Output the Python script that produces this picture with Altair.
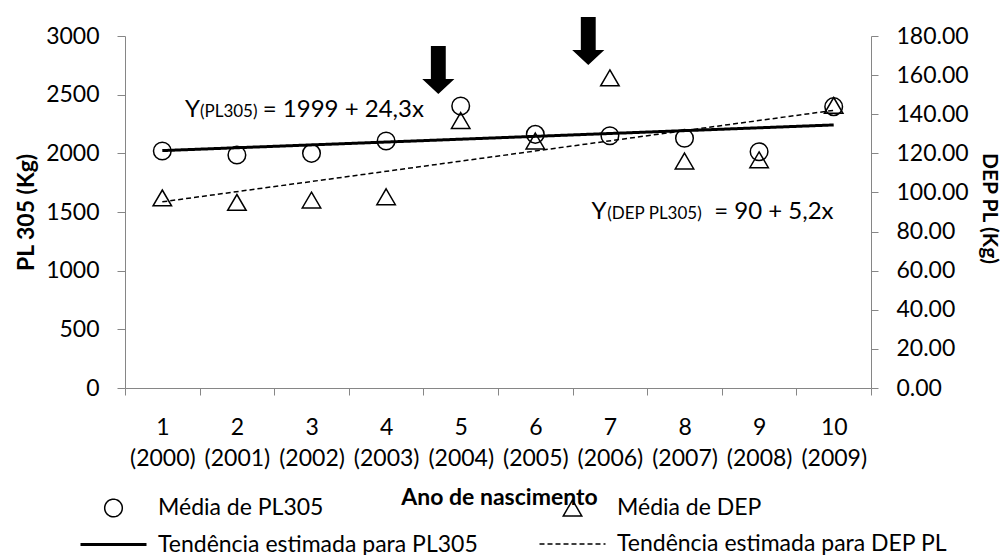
import json
import altair as alt
import pandas as pd

# ---------------- data ----------------
ano_idx = [1, 2, 3, 4, 5, 6, 7, 8, 9, 10]
ano_nasc = [2000, 2001, 2002, 2003, 2004, 2005, 2006, 2007, 2008, 2009]
media_pl305 = [2020, 1986, 2000, 2105, 2403, 2162, 2150, 2128, 2014, 2398]
media_dep = [97.2, 94.9, 96.1, 97.8, 136.8, 126.3, 158.6, 116.1, 116.7, 144.5]

trend_x = [1, 10]
trend_pl305 = [2023.3, 2242.0]
trend_dep = [95.2, 142.0]

series = [
    "Média de PL305",
    "Média de DEP",
    "Tendência estimada para PL305",
    "Tendência estimada para DEP PL",
]

arrow_x = [4.70, 6.71]
arrow_y = [2710, 2957]

eq1_x = [1.303, 1.504, 2.347]
eq1_y = 2310
eq1_text = ["Y", "(PL305)", "= 1999 + 24,3x"]

eq2_x = [6.752, 6.965, 8.398]
eq2_y = 86.4
eq2_text = ["Y", "(DEP PL305)", "= 90 + 5,2x"]

left_ticks = [0, 500, 1000, 1500, 2000, 2500, 3000]
right_ticks = [0, 20, 40, 60, 80, 100, 120, 140, 160, 180]
x_ticks = [i - 0.5 for i in ano_idx] + [10.5]

# ---------------- style ----------------
FONT = "Lato"
GREY = "#868686"
FS = 23

circle_path = ("M0.8,0 C0.8,0.4418 0.4418,0.8 0,0.8 C-0.4418,0.8 -0.8,0.4418 -0.8,0 "
               "C-0.8,-0.4418 -0.4418,-0.8 0,-0.8 C0.4418,-0.8 0.8,-0.4418 0.8,0 Z")
tri_path = "M0,-0.72 L0.84,0.72 L-0.84,0.72 Z"
line_path = "M-3,0 L3,0"
arrow_path = "M-0.31,-1 L0.31,-1 L0.31,0.375 L0.67,0.375 L0,1 L-0.67,0.375 L-0.31,0.375 Z"

leg = alt.Legend(
    orient="none", legendX=-24, legendY=460, columns=2, direction="horizontal",
    columnPadding=58, rowPadding=12, labelOffset=32, symbolSize=484, labelLimit=1000,
    labelFont=FONT, labelFontSize=FS, labelColor="black", title=None, padding=0,
    symbolStrokeColor="black", symbolFillColor="transparent", symbolStrokeWidth=1.5,
)
shape_scale = alt.Scale(domain=series, range=[circle_path, tri_path, line_path, line_path])
dash_scale = alt.Scale(domain=series, range=[[1, 0], [1, 0], [1, 0], [5, 3]])
width_scale = alt.Scale(type="ordinal", domain=series, range=[1.5, 1.5, 3, 1.5])

x_labels_1 = json.dumps([str(i) for i in ano_idx])
x_labels_2 = json.dumps([f"({a})" for a in ano_nasc])
label_expr = (f"datum.value < 10 ? [{x_labels_1}[floor(datum.value)], "
              f"{x_labels_2}[floor(datum.value)]] : ''")

x_enc = alt.X(
    "x:Q",
    scale=alt.Scale(domain=[0.5, 10.5], nice=False, zero=False),
    axis=alt.Axis(
        values=x_ticks, labelExpr=label_expr, labelOffset=37.35, tickSize=7,
        tickColor=GREY, domainColor=GREY, labelFont=FONT, labelFontSize=FS,
        labelColor="black", labelPadding=21, labelBaseline="top", labelLineHeight=31,
        labelFlush=False, labelOverlap=False, labelBound=False, grid=False,
        title="Ano de nascimento", titleFont=FONT, titleFontSize=FS,
        titleFontWeight="bold", titleColor="black", titleX=374, titleY=116,
        titleAlign="center", titleBaseline="alphabetic",
    ),
)

left_axis = alt.Axis(
    orient="left", values=left_ticks, format="d", tickSize=8, tickColor=GREY,
    domainColor=GREY, labelFont=FONT, labelFontSize=FS, labelColor="black",
    labelPadding=18, labelOverlap=False, grid=False,
    title="PL 305 (Kg)", titleFont=FONT, titleFontSize=FS, titleFontWeight="bold",
    titleColor="black", titleAngle=270, titleX=-99, titleY=176, titleAlign="center",
    titleBaseline="middle",
)
right_axis = alt.Axis(
    orient="right", values=right_ticks, format=".2f", tickSize=7, tickColor=GREY,
    domainColor=GREY, labelFont=FONT, labelFontSize=FS, labelColor="black",
    labelPadding=18, labelOverlap=False, grid=False,
    title="DEP PL (Kg)", titleFont=FONT, titleFontSize=21, titleFontWeight="bold",
    titleColor="black", titleAngle=90, titleX=117, titleY=172, titleAlign="center",
    titleBaseline="middle",
)
yl = alt.Scale(domain=[0, 3000], nice=False, zero=True)
yr = alt.Scale(domain=[0, 180], nice=False, zero=True)


def y_left():
    return alt.Y("y:Q", scale=yl, axis=left_axis)


def y_right():
    return alt.Y("y:Q", scale=yr, axis=right_axis)


# ---------------- frames ----------------
df_pl = pd.DataFrame({"x": ano_idx, "y": media_pl305, "serie": series[0]})
df_dep = pd.DataFrame({"x": ano_idx, "y": media_dep, "serie": series[1]})
df_tpl = pd.DataFrame({"x": trend_x, "y": trend_pl305, "serie": series[2]})
df_tdep = pd.DataFrame({"x": trend_x, "y": trend_dep, "serie": series[3]})
df_arrow = pd.DataFrame({"x": arrow_x, "y": arrow_y})
df_eq1 = pd.DataFrame({"x": eq1_x, "y": [eq1_y] * 3, "t": eq1_text, "k": [0, 1, 2]})
df_eq2 = pd.DataFrame({"x": eq2_x, "y": [eq2_y] * 3, "t": eq2_text, "k": [0, 1, 2]})


def eq_layers(df, yfun):
    out = []
    specs = [(0, 24), (1, 17), (2, 24)]
    for k, size in specs:
        out.append(
            alt.Chart(df).transform_filter(f"datum.k == {k}")
            .mark_text(align="left", baseline="alphabetic", font=FONT, fontSize=size,
                       color="black")
            .encode(x=x_enc, y=yfun(), text="t:N")
        )
    return out


trend_pl_layer = alt.Chart(df_tpl).mark_line(color="black").encode(
    x=x_enc, y=y_left(),
    strokeDash=alt.StrokeDash("serie:N", scale=dash_scale, legend=leg),
    strokeWidth=alt.StrokeWidth("serie:N", scale=width_scale, legend=leg),
)
circles = alt.Chart(df_pl).mark_point(
    filled=False, color="black", strokeWidth=1.5, size=484, opacity=1
).encode(
    x=x_enc, y=y_left(),
    shape=alt.Shape("serie:N", scale=shape_scale, legend=leg),
)
arrows = alt.Chart(df_arrow).mark_point(
    shape=arrow_path, filled=True, color="black", size=2304, opacity=1
).encode(x=x_enc, y=y_left())

left = alt.layer(trend_pl_layer, circles, arrows, *eq_layers(df_eq1, y_left))

trend_dep_layer = alt.Chart(df_tdep).mark_line(color="black").encode(
    x=x_enc, y=y_right(),
    strokeDash=alt.StrokeDash("serie:N", scale=dash_scale, legend=leg),
    strokeWidth=alt.StrokeWidth("serie:N", scale=width_scale, legend=leg),
)
triangles = alt.Chart(df_dep).mark_point(
    filled=False, color="black", strokeWidth=1.5, size=484, opacity=1
).encode(
    x=x_enc, y=y_right(),
    shape=alt.Shape("serie:N", scale=shape_scale, legend=leg),
)
right = alt.layer(trend_dep_layer, triangles, *eq_layers(df_eq2, y_right))

chart = (
    alt.layer(left, right)
    .resolve_scale(y="independent")
    .properties(
        width=746, height=352,
        padding={"left": 125, "top": 36, "right": 132, "bottom": 167},
        autosize=alt.AutoSizeParams(type="none"),
        background="white",
    )
    .configure_view(strokeWidth=0)
)

chart.save("out.html", embed_options={"renderer": "svg", "actions": False})
